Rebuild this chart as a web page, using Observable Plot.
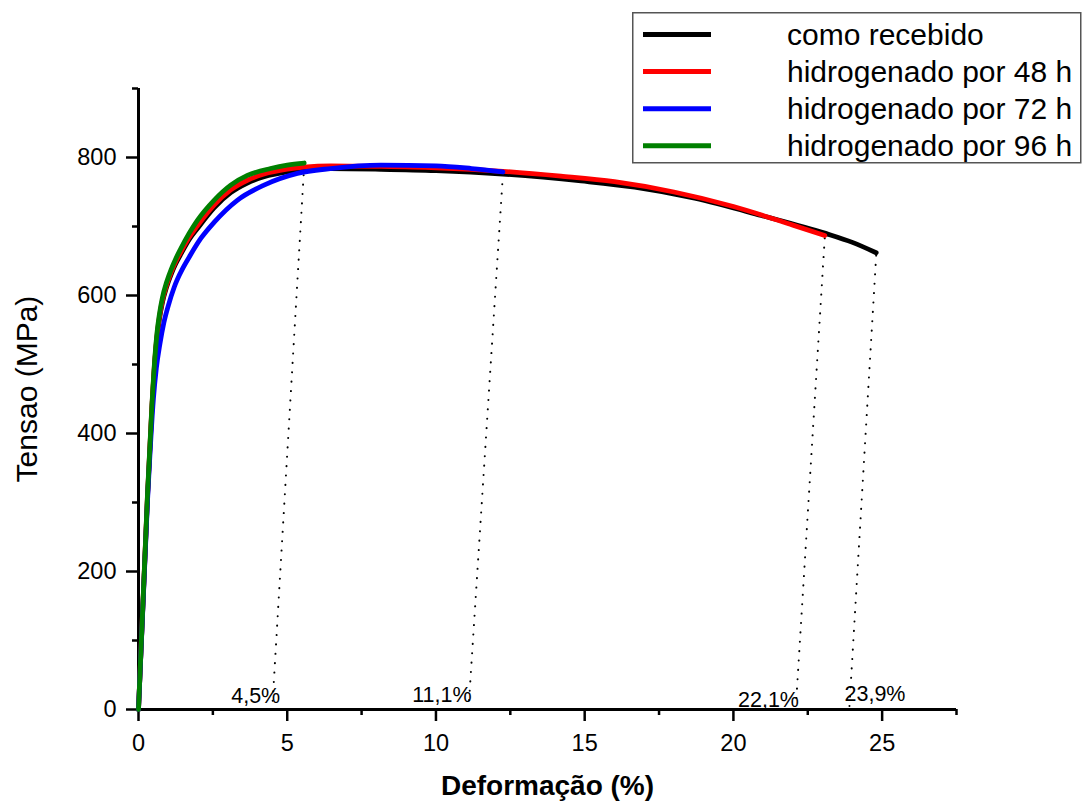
<!DOCTYPE html>
<html><head><meta charset="utf-8">
<script src="https://cdn.jsdelivr.net/npm/d3@7"></script>
<script src="https://cdn.jsdelivr.net/npm/@observablehq/plot@0.6"></script>
<style>
body{margin:0;background:#fff;font-family:"Liberation Sans",Arial,sans-serif;}
#wrap{position:relative;width:1084px;height:806px;}
#legend{position:absolute;left:632px;top:12px;}
</style></head><body><div id="wrap"></div>
<script>
// ---- data ----
const seriesNames = ["como recebido", "hidrogenado por 48 h", "hidrogenado por 72 h", "hidrogenado por 96 h"];
const seriesColors = ["#000000", "#ff0000", "#0000ff", "#008000"];

const strainComo = [0, 0.30, 0.45, 0.55, 0.62, 0.70, 0.80, 0.95, 1.10, 1.25, 1.41, 1.70, 1.98, 2.54, 3.10, 3.66, 4.22, 5.00, 5.56, 6.46, 8.15, 10.0, 12.25, 14.88, 16.68, 18.7, 20.94, 23.1, 24.0, 24.8];
const stressComo = [0, 305, 435, 504, 538, 565, 589, 613, 631, 646, 659, 681, 697, 727, 749, 763, 772, 779, 782, 784, 783, 781, 776, 766, 757, 741, 716, 690, 677, 662];

const strain48 = [0, 0.30, 0.45, 0.55, 0.62, 0.70, 0.80, 0.95, 1.10, 1.25, 1.41, 1.70, 1.98, 2.54, 3.10, 3.66, 4.22, 5.00, 5.56, 6.46, 8.15, 10.0, 12.25, 14.2, 16.0, 18.0, 20.0, 22.0, 23.07];
const stress48 = [0, 308, 438, 507, 541, 568, 592, 616, 634, 649, 662, 684, 701, 731, 753, 767, 776, 783, 786, 788, 787, 785, 780, 773, 765, 750, 729, 702, 687];

const strain72 = [0, 0.30, 0.50, 0.60, 0.72, 0.85, 1.00, 1.20, 1.40, 1.75, 2.10, 2.54, 3.32, 4.22, 5.34, 6.46, 8.15, 10.0, 11.2, 12.25];
const stress72 = [0, 300, 450, 495, 530, 560, 585, 612, 632, 659, 683, 706, 738, 760, 777, 784, 789, 788, 784, 779];

const strain96 = [0, 0.30, 0.45, 0.55, 0.62, 0.70, 0.80, 0.95, 1.10, 1.25, 1.41, 1.70, 1.98, 2.54, 3.10, 3.66, 4.44, 5.00, 5.57];
const stress96 = [0, 310, 440, 510, 545, 572, 596, 620, 638, 653, 667, 690, 709, 738, 760, 774, 784, 789, 792];

const plasticStrain = [4.5, 11.1, 22.1, 23.9];          // elastic-unloading intercepts
const breakSeries = [3, 2, 1, 0];                        // which curve each intercept belongs to
const annotLabels = ["4,5%", "11,1%", "22,1%", "23,9%"];
const annotX = [3.94, 10.2, 21.18, 24.76];
const annotY = [9.4, 10.5, 4.2, 12.3];

const xMajor = [0, 5, 10, 15, 20, 25];
const xMinor = [2.5, 7.5, 12.5, 17.5, 22.5, 27.5];
const yMajor = [0, 200, 400, 600, 800];
const yMinor = [100, 300, 500, 700, 900];

// ---- build table ----
const strains = [strainComo, strain48, strain72, strain96];
const stresses = [stressComo, stress48, stress72, stress96];
const rows = [];
seriesNames.forEach((s, i) => strains[i].forEach((x, j) => rows.push({series: s, strain: x, stress: stresses[i][j]})));
const breaks = plasticStrain.map((p, k) => {
  const i = breakSeries[k], n = strains[i].length - 1;
  return {x1: strains[i][n], y1: stresses[i][n] - 4, x2: p, y2: 4};
});

const FONT = "Liberation Sans";
const plot = Plot.plot({
  width: 1084, height: 806,
  marginLeft: 138, marginRight: 128, marginTop: 88, marginBottom: 97,
  style: {fontFamily: FONT, fontSize: "23.5px", color: "#000", background: "#fff", overflow: "visible"},
  x: {domain: [0, 27.5], label: null},
  y: {domain: [0, 900], label: null},
  color: {domain: seriesNames, range: seriesColors},
  marks: [
    Plot.axisX({ticks: xMajor, tickSize: 12, tickPadding: 13, strokeWidth: 2.5, fontSize: 23.5, label: null, tickFormat: d => String(d)}),
    Plot.axisX({ticks: xMinor, tickSize: 6, strokeWidth: 2.5, label: null, tickFormat: () => ""}),
    Plot.axisY({ticks: yMajor, tickSize: 12, tickPadding: 10, strokeWidth: 2.5, fontSize: 23.5, label: null, tickFormat: d => String(d)}),
    Plot.axisY({ticks: yMinor, tickSize: 6, strokeWidth: 2.5, label: null, tickFormat: () => ""}),
    Plot.ruleX([0], {strokeWidth: 3}),
    Plot.ruleY([0], {strokeWidth: 3}),
    Plot.link(breaks, {x1: "x1", y1: "y1", x2: "x2", y2: "y2", stroke: "#000", strokeWidth: 2, strokeDasharray: "0.1 9.3", strokeLinecap: "round"}),
    Plot.line(rows, {x: "strain", y: "stress", z: "series", stroke: "series", strokeWidth: 4.8, curve: "monotone-x"}),
    Plot.text(annotLabels, {x: (d, i) => annotX[i], y: (d, i) => annotY[i], text: d => d, fontSize: 21.5, lineAnchor: "bottom", textAnchor: "middle", fill: "#000"}),
    Plot.text(["Tensao (MPa)"], {frameAnchor: "left", dx: -111, dy: -10, rotate: -90, textAnchor: "middle", lineAnchor: "middle", fontSize: 30, fill: "#000"}),
    Plot.text(["Deformação (%)"], {frameAnchor: "bottom", dy: 77, textAnchor: "middle", lineAnchor: "middle", fontSize: 28, fontWeight: "bold", fill: "#000"})
  ]
});
const wrap = document.getElementById("wrap");
wrap.appendChild(plot);

// ---- legend ----
const lg = d3.select(wrap).append("svg").attr("id", "legend").attr("width", 450).attr("height", 152);
lg.append("rect").attr("x", 0.75).attr("y", 0.75).attr("width", 448).attr("height", 150)
  .attr("fill", "#fff").attr("stroke", "#555").attr("stroke-width", 1.5);
seriesNames.forEach((s, i) => {
  const cy = 22.5 + i * 37.1;
  lg.append("line").attr("x1", 11).attr("x2", 79).attr("y1", cy).attr("y2", cy)
    .attr("stroke", seriesColors[i]).attr("stroke-width", 5);
  lg.append("text").attr("x", 155).attr("y", cy + 10.5).text(s)
    .attr("font-family", FONT).attr("font-size", 30).attr("fill", "#000");
});
</script></body></html>
